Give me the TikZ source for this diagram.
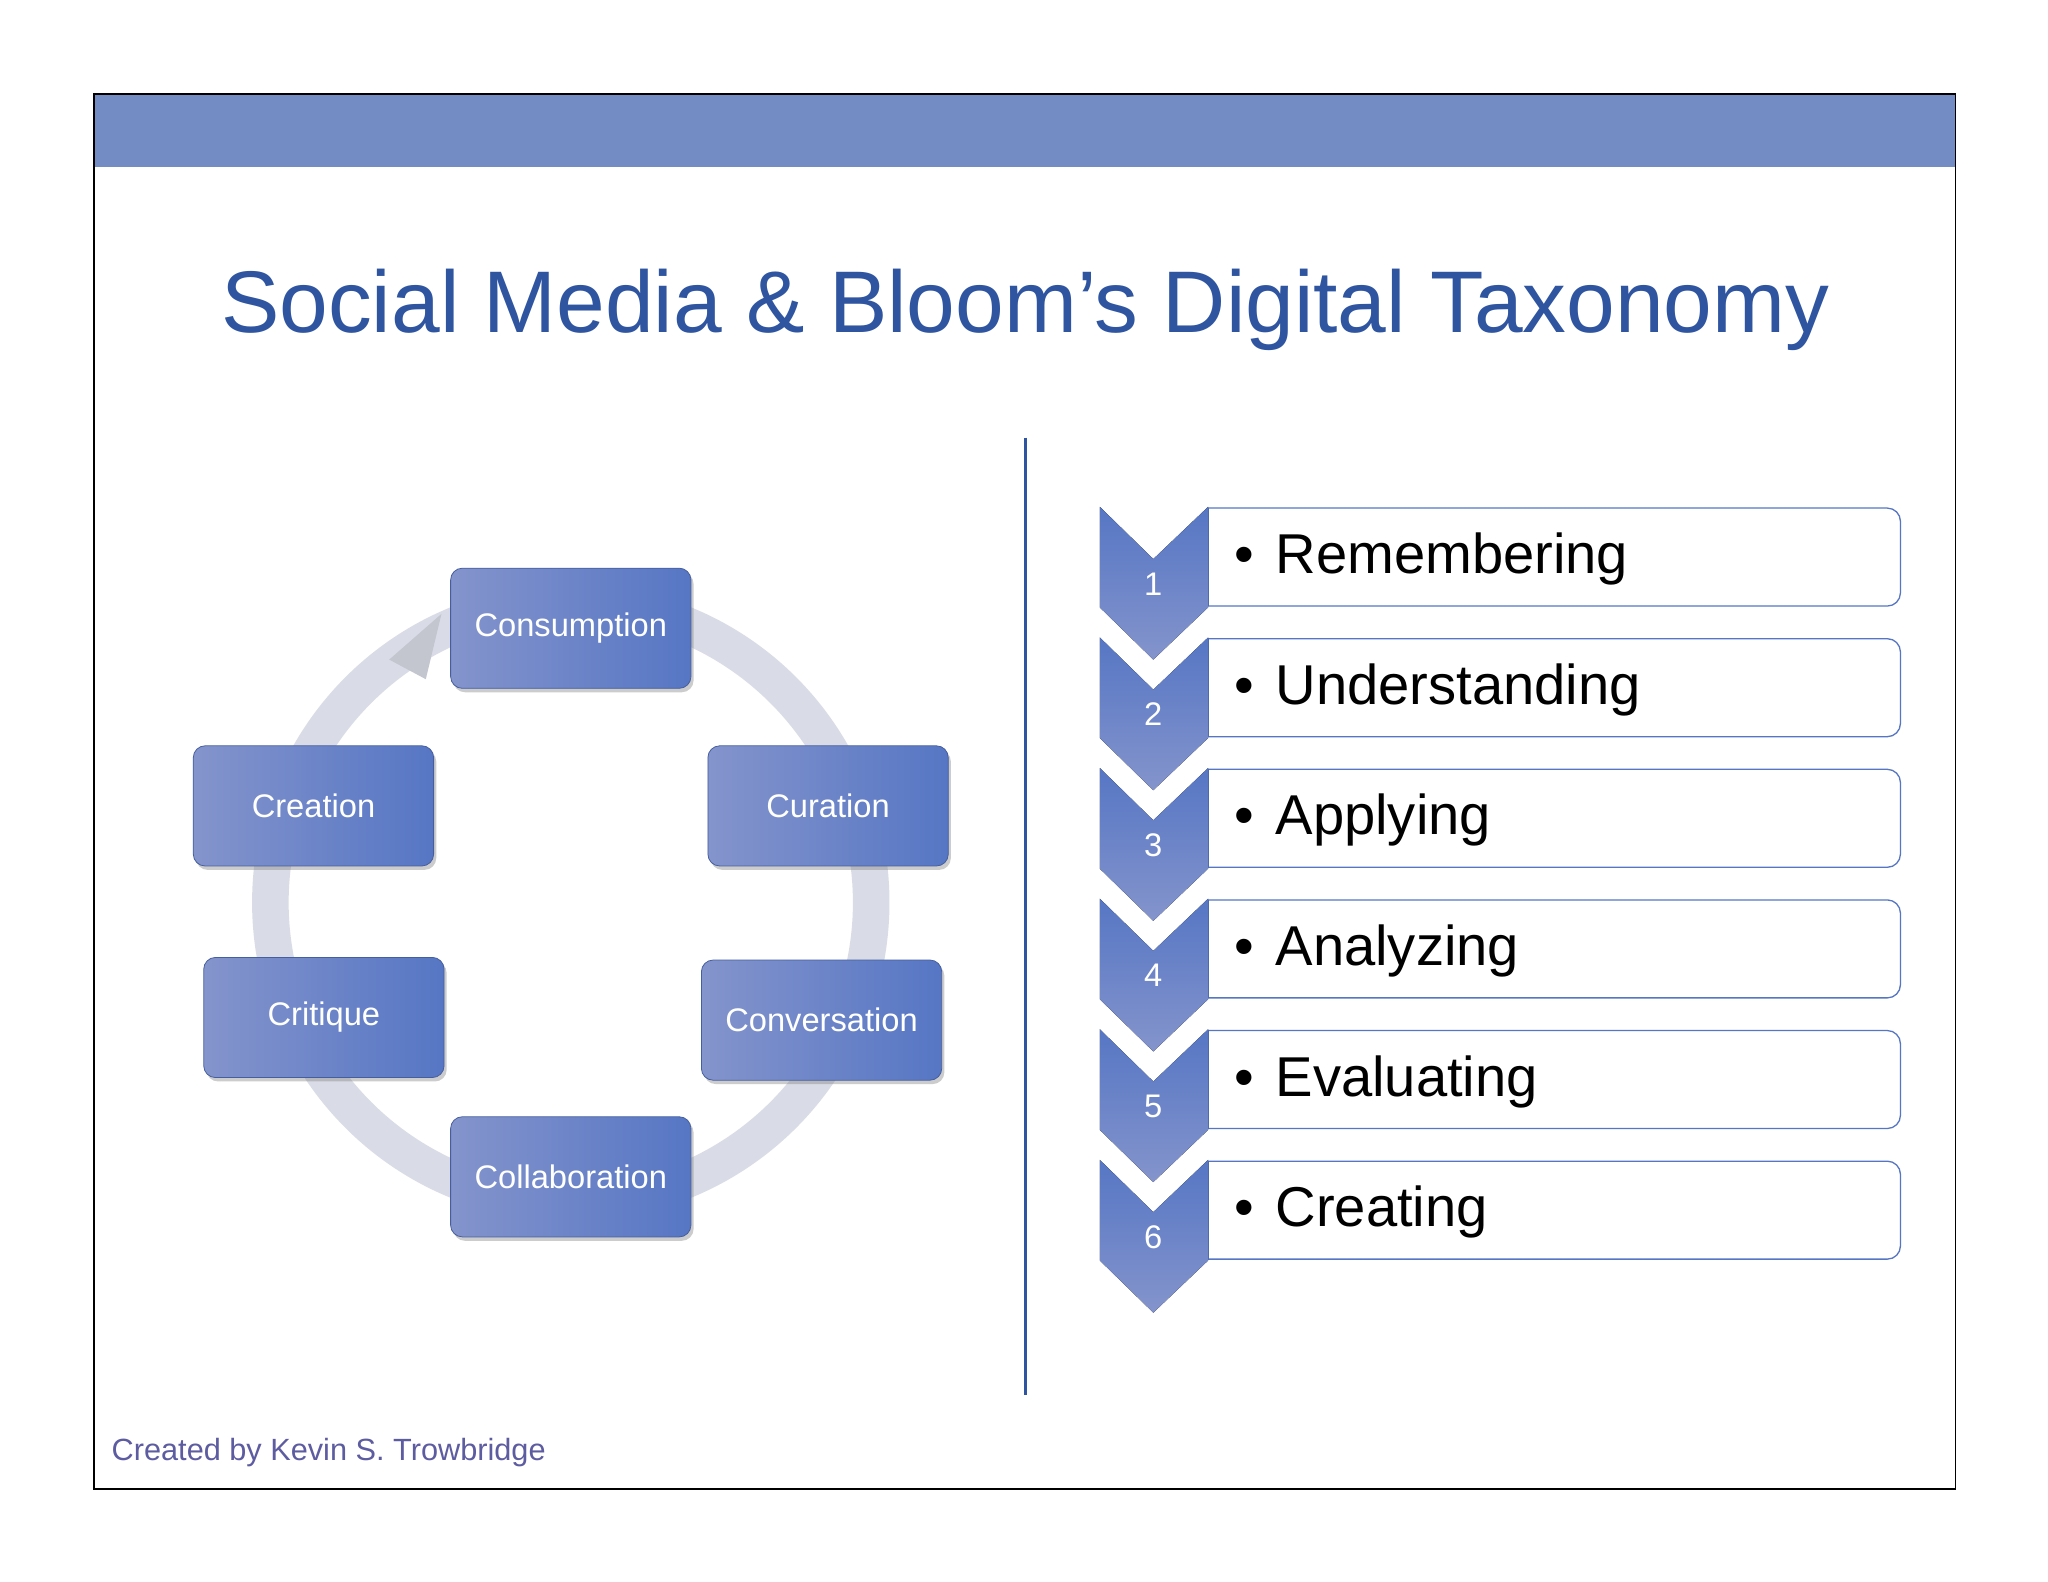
\documentclass[tikz,border=0pt]{standalone}
\usepackage{fontspec}
\setmainfont{Liberation Sans}
\usetikzlibrary{shadows}
\definecolor{bar}{HTML}{748CC4}
\definecolor{ttl}{HTML}{2F55A0}
\definecolor{boxA}{HTML}{8494CC}
\definecolor{boxB}{HTML}{5676C4}
\definecolor{ring}{HTML}{D9DCE6}
\definecolor{chev}{HTML}{6C86C6}
\definecolor{foot}{HTML}{5E5CA0}
\begin{document}
\begin{tikzpicture}[x=1pt,y=-1pt,
  cyc/.style={rounded corners=9pt,minimum width=184pt,minimum height=92pt,
    left color=boxA,right color=boxB,draw=boxB!80!black,line width=0.6pt,
    text=white,font=\fontsize{25}{30}\selectfont,
    drop shadow={shadow xshift=2pt,shadow yshift=-3pt,opacity=0.4}},
  lvl/.style={anchor=west,font=\fontsize{43}{50}\selectfont,text=black},
  num/.style={text=white,font=\fontsize{25}{30}\selectfont}]
\useasboundingbox (0,0) rectangle (1568,1211);
\fill[white] (0,0) rectangle (1568,1211);
\fill[bar] (72,72) rectangle (1497,128);
\draw[black,line width=1pt] (72,72) rectangle (1497,1140);
\node[text=ttl,font=\fontsize{67}{74}\selectfont] (title) at (785,237) {Social Media \& Bloom’s Digital Taxonomy};
\coordinate (vt) at (785,335); \coordinate (vb) at (785,1068);
\draw[ttl,line width=2.5pt] (vt) -- (vb);
% ring
\draw[ring,line width=28pt] (437,691) circle (230);
\fill[ring!90!black] (298,505) -- (338,470) -- (326,520) -- cycle;
\node[cyc] (c1) at (437,481) {Consumption};
\node[cyc] (c2) at (634,617) {Curation};
\node[cyc] (c3) at (629,781) {Conversation};
\node[cyc] (c4) at (437,901) {Collaboration};
\node[cyc] (c5) at (248,779) {Critique};
\node[cyc] (c6) at (240,617) {Creation};
% levels
\foreach \i/\t in {1/Remembering,2/Understanding,3/Applying,4/Analyzing,5/Evaluating,6/Creating}{
  \pgfmathsetmacro{\y}{388+100*(\i-1)}
  \draw[draw=boxB,fill=white,line width=1pt,rounded corners=10pt]
     (925,\y+1) -- (1455,\y+1) -- (1455,\y+76) -- (925,\y+76);
  \draw[boxB,line width=1pt] (925,\y+1) -- (925,\y+76);
  \fill[left color=boxB,right color=boxA,shading angle=0]
     (842,\y) -- (883,\y+40) -- (925,\y) -- (925,\y+77) -- (883,\y+117) -- (842,\y+77) -- cycle;
  \node[num] (n\i) at (883,\y+59) {\i};
  \node[lvl] (l\i) at (942,\y+40) {•\hspace{16pt}\t};
}
\node[anchor=west,text=foot,font=\fontsize{23.5}{28}\selectfont] (ft) at (82,1112) {Created by Kevin S. Trowbridge};
\end{tikzpicture}
\end{document}
